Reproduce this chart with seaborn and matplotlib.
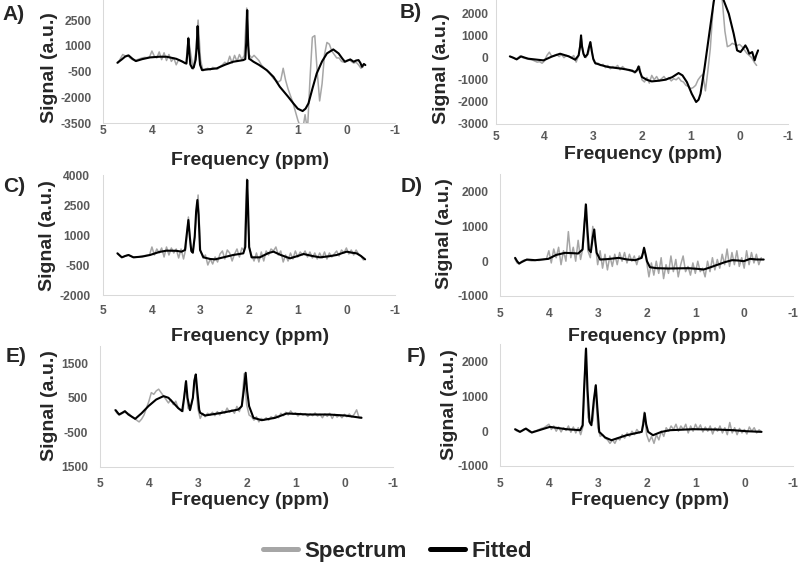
import numpy as np
import seaborn as sns
import matplotlib.pyplot as plt

# ppm grid of the measured spectra (4.70 down to -0.35, 102 points)
spec_ppm = np.round(np.arange(4.70, -0.351, -0.05), 2)

# measured spectra (a.u.), one value per grid point, 10 per row
spec_A = [0, 250, 500, 420, 450, 300, 200, 150, 200, 250,
          300, 330, 320, 350, 700, 400, 300, 650, 200, 600,
          150, 500, 100, 300, -100, 200, 100, 50, 0, 1500,
          500, -350, 600, 2500, 200, -450, -350, -300, -400, -250,
          -300, -350, -200, -100, 50, -50, 400, 0, 450, 100,
          500, 200, 450, 3200, 500, 300, 450, 300, 150, -100,
          -250, -400, -500, -700, -900, -1000, -1100, -1000, -300, -1000,
          -1500, -1900, -2300, -2800, -3300, -3700, -3900, -3000, -3900, -1000,
          1500, 1600, -500, -2200, -1200, 500, 1200, 1100, 700, 500,
          300, 300, 100, 50, 150, 200, 100, 0, 50, -100,
          -300, -200]
spec_B = [50, 0, -50, -20, 80, 0, -30, -60, -80, -100,
          -150, -200, -180, -250, -150, 100, 250, 50, 100, 150,
          50, 150, 0, 100, 50, 0, 100, -200, 100, 950,
          150, 0, 200, 700, -100, -300, -250, -350, -300, -450,
          -350, -500, -400, -450, -350, -550, -400, -500, -550, -600,
          -550, -700, -600, -400, -1000, -1100, -900, -1150, -800, -1000,
          -850, -1050, -950, -850, -1000, -900, -1050, -950, -1000, -900,
          -1050, -1100, -1250, -1300, -1400, -1350, -1250, -1000, -850, -750,
          -1500, -600, 400, 2000, 3500, 3800, 3500, 2500, 1200, 500,
          550, 650, 600, 550, 600, 500, 350, 200, 100, 0,
          -200, -350]
spec_C = [80, -50, -120, -50, 0, -30, -100, -120, -100, -80,
          -50, -30, -10, 0, 400, 0, 300, 100, 350, -100,
          400, 0, 350, 100, 300, -150, 300, -200, 350, 1900,
          300, 100, 1500, 3000, 200, -150, 0, -500, -200, -450,
          -100, -350, 50, 200, -200, 250, 100, -300, 50, 300,
          -100, 350, 200, 3800, 400, 0, -300, 100, -350, 150,
          -300, 200, 0, 300, 200, 400, 0, 200, -350, 0,
          -300, 100, -200, 200, -100, 150, 0, 200, -100, 150,
          -150, 100, -200, 100, -150, 150, -200, 100, -100, 50,
          200, -50, 250, 100, 350, 50, 250, 0, 250, 50,
          -50, -250]
spec_D = [80, -50, -80, 0, 40, 30, 20, 10, 20, 30,
          20, 40, 50, 60, 300, -50, 350, 100, 400, -100,
          300, 0, 850, 100, 400, 0, 600, 50, 400, 1650,
          300, 100, 1000, 500, -100, 300, -200, 200, -250, 150,
          -150, 200, -100, 250, 0, 250, -50, 200, 0, 150,
          -100, 150, 100, 400, 0, -450, -50, -400, 0, -350,
          100, -500, -100, -350, 150, -300, 50, -450, -100, 150,
          -300, -150, -400, -50, -350, 0, -300, -200, -450, 0,
          -300, 100, -250, 50, -200, 200, -100, 350, -150, 250,
          -100, 300, -150, 100, -200, 300, -100, 250, -50, 200,
          -100, 100]
spec_E = [150, 50, 0, 40, 80, 60, 30, -50, -100, -150,
          -200, -120, 0, 200, 400, 650, 600, 700, 750, 650,
          550, 450, 350, 450, 300, 400, 200, 150, 100, 950,
          200, 150, 500, 1150, 200, -100, 50, -50, 50, 0,
          80, -20, 100, 0, 120, 50, 200, 80, 150, 50,
          250, 100, 300, 1200, 300, 0, -50, -150, -50, -200,
          -100, -150, -80, -150, -50, -100, 0, -80, 50, -20,
          80, 0, 120, 20, 60, -30, 50, 0, 40, -40,
          30, -20, 60, -30, 20, -80, 30, -40, 50, -100,
          20, -60, 0, -80, 20, -50, 30, -60, 20, 150,
          -80, -60]
spec_F = [50, 0, -20, 20, 70, 40, -20, -40, 0, 20,
          50, 80, 100, 150, 200, 50, 150, 0, 120, -20,
          100, 20, 150, -30, 120, -50, 100, -100, 150, 2350,
          400, 200, 300, 1300, 100, -150, -100, -200, -250, -350,
          -250, -350, -200, -250, -100, -200, -50, -150, 0, -100,
          50, -50, 0, 550, -100, -300, -150, -350, -100, -250,
          0, -150, 100, 0, 150, 50, 200, 0, 150, 50,
          200, -50, 150, 0, 200, 50, 180, -20, 120, 0,
          150, -80, 100, 0, 150, -50, 100, -100, 250, -50,
          100, -100, 80, -50, 50, -80, 120, 0, 100, -50,
          40, -20]

# fitted curves as (ppm, signal) pairs
fit_A = [(4.71, 20), (4.62, 214), (4.55, 380), (4.48, 447), (4.40, 250), (4.33, 117),
         (4.20, 230), (4.04, 330), (3.85, 370), (3.70, 370), (3.50, 250), (3.38, 100),
         (3.32, 0), (3.29, -30), (3.27, 600), (3.25, 1435), (3.23, 600), (3.21, -80),
         (3.17, -300), (3.14, -250), (3.10, 200), (3.08, 900), (3.06, 2150), (3.04, 900),
         (3.01, -100), (2.97, -406), (2.90, -380), (2.67, -309), (2.50, -100), (2.33, 78),
         (2.12, 175), (2.08, 230), (2.06, 1200), (2.04, 3080), (2.02, 1000), (2.00, 250),
         (1.97, 200), (1.91, 78), (1.80, -100), (1.64, -406), (1.50, -800), (1.37, -1374),
         (1.20, -1950), (1.09, -2343), (1.00, -2650), (0.90, -2788), (0.84, -2650),
         (0.78, -2343), (0.70, -1500), (0.61, -600), (0.50, 100), (0.40, 563), (0.27, 795),
         (0.16, 563), (0.08, 250), (0.03, 78), (-0.08, 214), (-0.15, 78), (-0.20, 150),
         (-0.25, 175), (-0.29, 0), (-0.32, -212), (-0.36, -50), (-0.39, -115)]
fit_B = [(4.71, 60), (4.64, 0), (4.57, -76), (4.48, 60), (4.40, 0), (4.33, -46),
         (4.15, -90), (4.02, -121), (3.85, 50), (3.68, 180), (3.50, 60), (3.37, -91),
         (3.30, 105), (3.27, 500), (3.25, 1010), (3.23, 500), (3.20, 180), (3.17, 30),
         (3.12, 150), (3.09, 450), (3.06, 708), (3.03, 300), (3.00, -46), (2.96, -242),
         (2.85, -330), (2.69, -423), (2.41, -498), (2.25, -560), (2.14, -649), (2.10, -550),
         (2.07, -393), (2.04, -650), (2.00, -875), (1.90, -1000), (1.80, -1072),
         (1.65, -1040), (1.52, -996), (1.38, -880), (1.25, -694), (1.17, -800),
         (1.08, -1102), (0.98, -1630), (0.89, -2006), (0.84, -1900), (0.80, -1630),
         (0.72, -500), (0.63, 934), (0.53, 2518), (0.45, 3500), (0.38, 3300), (0.325, 2593),
         (0.22, 1990), (0.12, 1085), (0.05, 331), (-0.02, 256), (-0.07, 400), (-0.12, 557),
         (-0.16, 400), (-0.20, 180), (-0.26, 256), (-0.31, -121), (-0.34, 100), (-0.38, 331)]
fit_C = [(4.71, 83), (4.62, -117), (4.55, -50), (4.48, 0), (4.38, -117), (4.20, -80),
         (4.04, 0), (3.85, 150), (3.70, 217), (3.50, 210), (3.39, 167), (3.32, 250),
         (3.29, 900), (3.25, 1750), (3.22, 900), (3.19, 200), (3.16, 117), (3.12, 900),
         (3.09, 2200), (3.065, 2750), (3.04, 2000), (3.01, 250), (2.94, -117), (2.80, -200),
         (2.70, -217), (2.50, -100), (2.33, 0), (2.12, 83), (2.08, 400), (2.06, 2200),
         (2.04, 3750), (2.02, 2200), (2.00, 400), (1.95, -117), (1.78, -117), (1.60, 100),
         (1.50, 167), (1.35, 0), (1.16, -167), (1.00, -50), (0.88, 50), (0.70, -50),
         (0.54, -117), (0.35, -60), (0.20, 0), (0.08, 100), (-0.01, 167), (-0.10, 120),
         (-0.21, 83), (-0.30, -50), (-0.385, -217)]
fit_D = [(4.69, 96), (4.65, 0), (4.61, -66), (4.55, -20), (4.45, 48), (4.28, 29),
         (4.01, 67), (3.85, 180), (3.67, 240), (3.50, 230), (3.40, 221), (3.31, 336),
         (3.28, 900), (3.24, 1629), (3.21, 900), (3.18, 336), (3.14, 259), (3.10, 700),
         (3.07, 911), (3.05, 600), (3.02, 240), (2.95, 48), (2.80, 60), (2.57, 96),
         (2.40, 50), (2.23, 29), (2.10, 96), (2.07, 250), (2.05, 384), (2.02, 200),
         (1.99, 0), (1.93, -172), (1.80, -200), (1.55, -210), (1.14, -201), (0.95, -220),
         (0.83, -239), (0.70, -180), (0.59, -124), (0.40, -30), (0.25, 29), (0.12, 20),
         (0.01, 0), (-0.12, 67), (-0.25, 50), (-0.40, 48)]
fit_E = [(4.68, 141), (4.61, 15), (4.55, 60), (4.49, 112), (4.42, 15), (4.28, -111),
         (4.15, 50), (4.01, 257), (3.85, 450), (3.70, 548), (3.60, 500), (3.50, 354),
         (3.40, 200), (3.32, 112), (3.28, 500), (3.24, 984), (3.21, 500), (3.16, 141),
         (3.10, 500), (3.07, 1000), (3.04, 1178), (3.01, 700), (2.97, 150), (2.95, 63),
         (2.85, -14), (2.51, 63), (2.17, 160), (2.10, 257), (2.06, 700), (2.02, 1226),
         (1.99, 700), (1.95, 257), (1.86, -82), (1.69, -150), (1.42, -82), (1.18, 44),
         (0.95, 30), (0.74, 15), (0.33, 15), (-0.01, -14), (-0.35, -82)]
fit_F = [(4.69, 57), (4.59, -19), (4.47, 76), (4.35, -38), (4.15, 50), (3.98, 124),
         (3.64, 57), (3.36, 29), (3.31, 172), (3.28, 1200), (3.24, 2376), (3.21, 1200),
         (3.17, 268), (3.13, 172), (3.08, 900), (3.04, 1322), (3.01, 700), (2.97, -19),
         (2.85, -180), (2.72, -259), (2.41, -115), (2.10, -19), (2.07, 200), (2.04, 520),
         (2.01, 200), (1.97, -19), (1.87, -115), (1.70, -20), (1.52, 29), (1.05, 57),
         (0.57, 48), (0.23, 29), (-0.04, 0), (-0.35, -19)]

panel_names = ['A)', 'B)', 'C)', 'D)', 'E)', 'F)']
spectra = [spec_A, spec_B, spec_C, spec_D, spec_E, spec_F]
fits = [fit_A, fit_B, fit_C, fit_D, fit_E, fit_F]
y_limits = [(-3500, 4000), (-3000, 3000), (-2000, 4000),
            (-1000, 2500), (-1500, 2000), (-1000, 2500)]
y_ticks = [[-3500, -2000, -500, 1000, 2500],
           [-3000, -2000, -1000, 0, 1000, 2000],
           [-2000, -500, 1000, 2500, 4000],
           [-1000, 0, 1000, 2000],
           [-1500, -500, 500, 1500],
           [-1000, 0, 1000, 2000]]
E_ytick_labels = ['1500', '-500', '500', '1500']
x_ticks = [5, 4, 3, 2, 1, 0, -1]
legend_labels = ['Spectrum', 'Fitted']

# layout in pixels of the 800x565 canvas
W, H = 800, 565
boxes = [(103.3, 395, 123.3, -5.7), (495.7, 788.3, 124, -8.6),
         (103.3, 395, 295, 175), (500, 793, 296, 174.2),
         (100, 393.3, 466.7, 346.1), (500, 793.3, 466, 344.2)]
letter_pos = [(14, 14), (411, 13), (14, 186), (412, 186), (16, 356), (416, 356)]
ylabel_pos = [(50, 67.5), (442, 69), (48, 235.5), (444, 234), (50, 406), (449, 405)]
xlabel_pos = [(250, 152), (643, 146), (250, 328), (647, 328), (250, 492), (650, 492)]
ytick_pad = [11.6, 7.4, 13, 11.7, 11.7, 11.7]
xtick_pad = [-1.5, 4.0, 6.8, 8.5, 7.8, 8.5]

GRAY = '#a6a6a6'
AXIS = '#d9d9d9'
TICK_TXT = '#595959'

sns.set_style('white')
plt.rcParams['font.family'] = ['Liberation Sans', 'DejaVu Sans']
plt.rcParams['font.weight'] = 'bold'
plt.rcParams['axes.unicode_minus'] = False

fig = plt.figure(figsize=(8, 5.65), dpi=100)
handles = []
for i in range(6):
    l, r, b, t = boxes[i]
    ax = fig.add_axes([l / W, 1 - b / H, (r - l) / W, (b - t) / H])
    fx, fy = zip(*fits[i])
    sns.lineplot(x=spec_ppm, y=np.array(spectra[i]), color=GRAY, lw=1.1,
                 estimator=None, ax=ax)
    sns.lineplot(x=np.array(fx), y=np.array(fy), color='black', lw=1.5,
                 estimator=None, ax=ax)
    if i == 0:
        handles = ax.get_lines()[:2]

    ax.set_xlim(5, -1)
    ax.set_ylim(*y_limits[i])
    ax.set_xticks(x_ticks)
    ax.set_yticks(y_ticks[i])
    if i == 4:
        ax.set_yticklabels(E_ytick_labels)
    ax.tick_params(axis='x', length=2.2, width=0.75, color=AXIS, direction='out',
                   pad=xtick_pad[i] * 0.72, labelsize=8.7, labelcolor=TICK_TXT)
    ax.tick_params(axis='y', length=0, pad=ytick_pad[i] * 0.72,
                   labelsize=8.7, labelcolor=TICK_TXT)
    sns.despine(ax=ax)
    for s in ['left', 'bottom']:
        ax.spines[s].set_color(AXIS)
        ax.spines[s].set_linewidth(0.75)

    ax.set_xlabel('Frequency (ppm)', fontsize=14, fontweight='bold')
    ax.xaxis.set_label_coords(xlabel_pos[i][0] / W, 1 - xlabel_pos[i][1] / H,
                              transform=fig.transFigure)
    ax.set_ylabel('Signal (a.u.)', fontsize=14, fontweight='bold')
    ax.yaxis.label.set_va('center')
    ax.yaxis.set_label_coords(ylabel_pos[i][0] / W, 1 - ylabel_pos[i][1] / H,
                              transform=fig.transFigure)

    fig.text(letter_pos[i][0] / W, 1 - letter_pos[i][1] / H, panel_names[i],
             ha='center', va='center', fontsize=15, fontweight='bold')

leg = fig.legend(handles, legend_labels, loc='center', ncol=2,
                 bbox_to_anchor=(397.4 / W, 1 - 551.7 / H), frameon=False,
                 fontsize=16, handlelength=1.58, handletextpad=0.3,
                 columnspacing=1.05, borderpad=0)
for line in leg.get_lines():
    line.set_linewidth(3.6)

fig.savefig('out.png', dpi=100)
